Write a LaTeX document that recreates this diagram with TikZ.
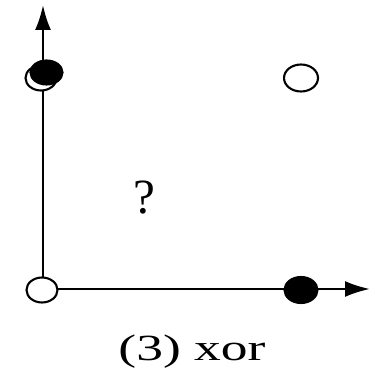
\documentclass[tikz,border=0pt]{standalone}
\usepackage{fontspec}
\setmainfont{Liberation Serif}
\usepackage{tikz-network}
\usetikzlibrary{arrows.meta,shapes.geometric}

\begin{document}
\begin{tikzpicture}
    \pgfmathsetmacro{\width}{7.44}
    \pgfmathsetmacro{\height}{7.5}
    \tikzset{axis/.style={line width=1.3pt,-{Latex[length=5mm,width=3.2mm]}}}
    \useasboundingbox (0,0) rectangle (\width,\height);
    \coordinate (origin) at (0.86,1.72);
    \coordinate (x_tip) at (7.40,1.72);
    \coordinate (y_tip) at (0.86,7.40);
    \draw[axis] (origin) -- (x_tip);
    \draw[axis] (origin) -- (y_tip);
    \Vertex[color=white,size=0.5,style={ellipse,minimum width=0.62cm,minimum height=0.5cm,line width=1.2pt},x=0.82,y=5.94]{ghost_01};
\Vertex[color=black,size=0.5,style={ellipse,minimum width=0.64cm,minimum height=0.48cm,line width=1.2pt},x=0.93,y=6.05]{P01};
\Vertex[color=white,size=0.5,style={ellipse,minimum width=0.68cm,minimum height=0.54cm,line width=1.2pt},x=6.02,y=5.94]{P11};
\Vertex[color=white,size=0.5,style={ellipse,minimum width=0.62cm,minimum height=0.5cm,line width=1.2pt},x=0.84,y=1.70]{P00};
\Vertex[color=black,size=0.5,style={ellipse,minimum width=0.66cm,minimum height=0.52cm,line width=1.2pt},x=6.02,y=1.70]{P10};
\Vertex[label={?},fontsize=\fontsize{28}{30}\selectfont,opacity=0.0,style={draw=none},x=2.88,y=3.54]{label_q};
\Vertex[label={\scalebox{1.45}[1]{(3) xor}},fontsize=\fontsize{21}{24}\selectfont,opacity=0.0,style={draw=none},x=3.84,y=0.46]{label_xor};

\end{tikzpicture}
\end{document}
